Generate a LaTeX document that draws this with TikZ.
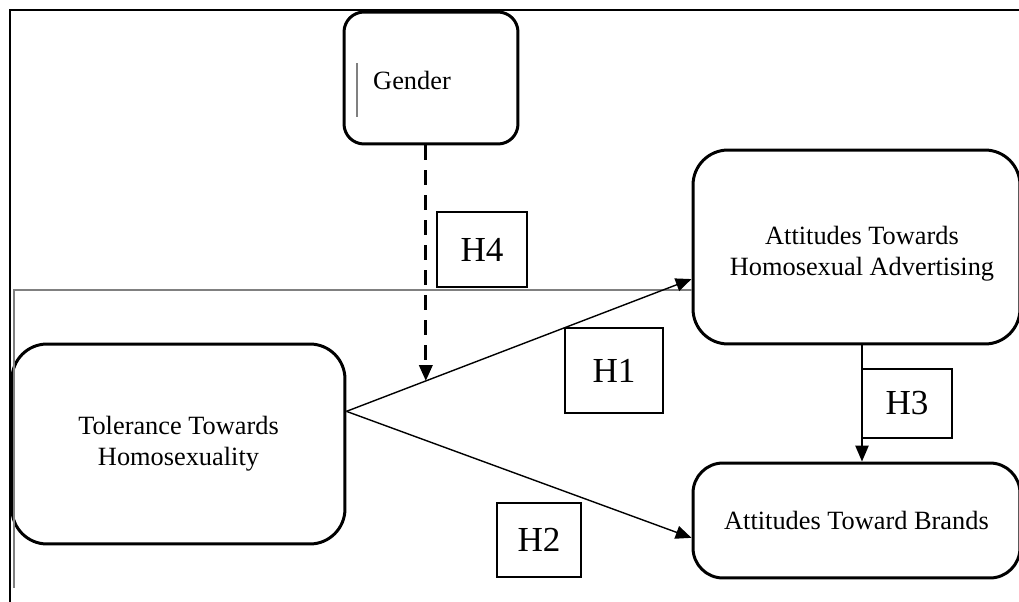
\documentclass[tikz,border=0pt]{standalone}
\usepackage{fontspec}
\setmainfont{Liberation Serif}
\usetikzlibrary{arrows.meta, calc, positioning}
\tikzset{>={Triangle[length=9pt,width=7.5pt]}}

\begin{document}
\begin{tikzpicture}[x=0.02cm, y=-0.02cm,
    var/.style={draw, line width=1.7pt, align=center, font=\fontsize{15}{17.5}\selectfont},
    hyp/.style={draw, line width=0.8pt, font=\fontsize{20}{23}\selectfont},
    link/.style={->, line width=0.8pt}]
  \useasboundingbox (0,0) rectangle (1019,602);
  \draw[line width=0.8pt](1019,10)--(10,10)--(10,602);
  % variables
  \node[var, minimum width=3.48cm, minimum height=2.64cm, rounded corners=0.4cm](gender) at (431,78){};
  \node[font=\fontsize{15}{17.5}\selectfont](gendertext) at (412,80){Gender};
  \draw[gray, line width=0.6pt](357,63)--(357,117);
  \node[var, minimum width=6.66cm, minimum height=4cm, rounded corners=0.7cm](tolerance) at (178.5,444){Tolerance Towards\\Homosexuality};
  \node[var, minimum width=6.54cm, minimum height=3.88cm, rounded corners=0.7cm](ath) at (856.5,247){};
  \node[font=\fontsize{15}{17.5}\selectfont, align=center](athtext) at (862,254){Attitudes Towards\\Homosexual Advertising};
  \node[var, minimum width=6.54cm, minimum height=2.3cm, rounded corners=0.6cm](atb) at (856.5,520.5){Attitudes Toward Brands};
  \draw[gray, line width=0.6pt](ath.west |- 0,290)--(14,290)--(14,588);
  % paths
  \draw[link](tolerance.11.5)--(ath.191.4);
  \draw[link](tolerance.11.5)--(atb.186.8);
  \draw[link]([xshift=0.11cm]ath.south)--([xshift=0.11cm]atb.north);
  \coordinate(mod) at ($(tolerance.11.5)!0.23!(ath.191.4)$);
  \draw[->, line width=1.7pt, dash pattern=on 0.3cm off 0.2cm](gender.south -| mod)--(mod);
  % hypotheses
  \node[hyp, minimum width=1.8cm, minimum height=1.5cm](h4) at (482,249.5){H4};
  \node[hyp, minimum width=1.96cm, minimum height=1.7cm](h1) at (614,370.5){H1};
  \node[hyp, minimum width=1.68cm, minimum height=1.48cm](h2) at (539,540){H2};
  \node[hyp, minimum width=1.8cm, minimum height=1.38cm](h3) at (907,403.5){H3};
\end{tikzpicture}
\end{document}
